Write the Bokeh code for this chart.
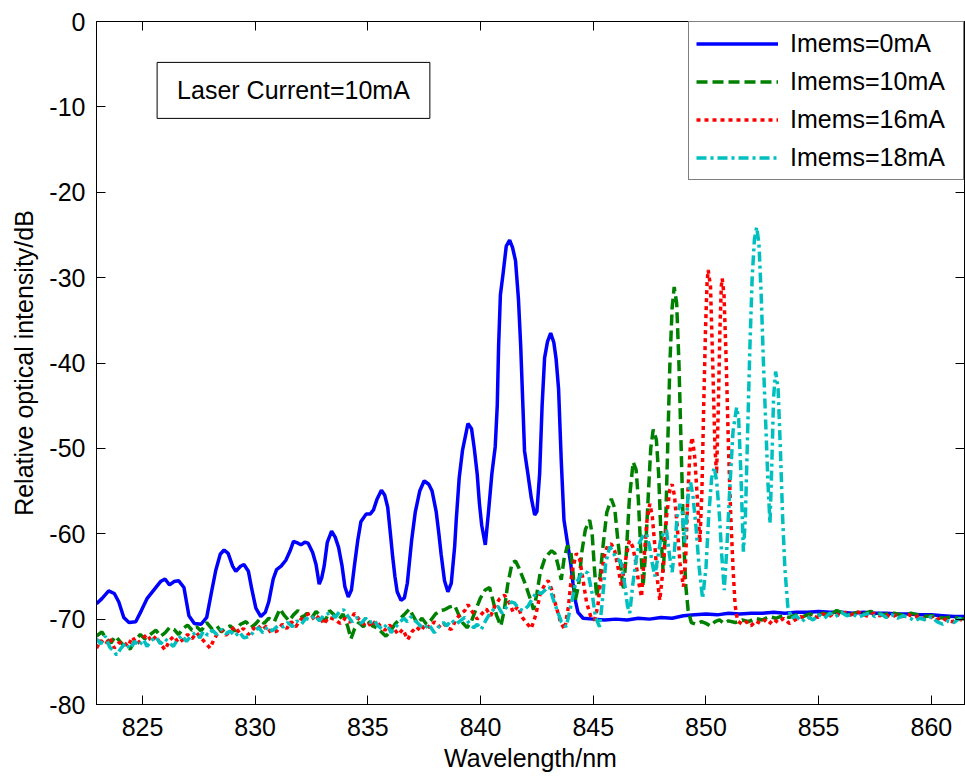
from bokeh.plotting import figure
from bokeh.models import Range1d, FixedTicker, LinearAxis, Legend, LegendItem, Label
from bokeh.embed import file_html
from bokeh.resources import INLINE

# ---------------- data ----------------
x_ticks = [825, 830, 835, 840, 845, 850, 855, 860]
y_ticks = [-80, -70, -60, -50, -40, -30, -20, -10, 0]
y_tick_labels = ["-80", "-70", "-60", "-50", "-40", "-30", "-20", "-10", "0"]
series_labels = ["Imems=0mA", "Imems=10mA", "Imems=16mA", "Imems=18mA"]

x_0ma = [822.96, 823.2, 823.5, 823.75, 823.95, 824.17, 824.4, 824.7, 824.95, 825.2, 825.5, 825.8, 826.0,
         826.2, 826.4, 826.6, 826.84, 827.06, 827.3, 827.6, 827.85, 828.05, 828.25, 828.45, 828.62, 828.8,
         829.0, 829.14, 829.35, 829.5, 829.7, 829.85, 830.03, 830.25, 830.45, 830.6, 830.8, 830.95, 831.15,
         831.36, 831.55, 831.7, 831.9, 832.03, 832.2, 832.35, 832.55, 832.7, 832.84, 832.95, 833.06, 833.2,
         833.39, 833.55, 833.7, 833.85, 833.98, 834.13, 834.27, 834.4, 834.55, 834.69, 834.92, 835.1, 835.25,
         835.4, 835.6, 835.75, 835.88, 836.0, 836.1, 836.2, 836.3, 836.47, 836.62, 836.75, 836.94, 837.1,
         837.3, 837.5, 837.7, 837.85, 838.03, 838.15, 838.25, 838.4, 838.55, 838.7, 838.85, 838.92, 839.05,
         839.2, 839.44, 839.6, 839.72, 839.85, 839.95, 840.05, 840.21, 840.35, 840.5, 840.65, 840.74, 840.8,
         840.88, 841.0, 841.14, 841.29, 841.42, 841.55, 841.68, 841.78, 841.88, 841.95, 842.1, 842.25, 842.4,
         842.5, 842.62, 842.73, 842.84, 842.97, 843.11, 843.25, 843.35, 843.46, 843.58, 843.7, 843.88, 844.0,
         844.1, 844.22, 844.32, 844.55, 845.0, 845.5, 846.0, 846.5, 847.0, 847.5, 848.0, 848.5, 849.0, 849.5,
         850.0, 850.5, 851.0, 851.5, 852.0, 852.5, 853.0, 853.5, 854.0, 854.5, 855.0, 855.5, 856.0, 856.5,
         857.0, 857.5, 858.0, 858.5, 859.0, 859.5, 860.0, 860.5, 861.0, 861.47]
y_0ma = [-68.2, -67.6, -66.7, -67.0, -68.0, -69.8, -70.4, -70.3, -69.0, -67.6, -66.6, -65.6, -65.3,
         -66.0, -65.6, -65.5, -66.3, -69.6, -70.5, -70.6, -69.8, -67.0, -64.3, -62.4, -61.9, -62.3,
         -63.8, -64.4, -63.8, -63.6, -64.4, -66.5, -68.7, -69.7, -69.2, -68.0, -65.3, -64.2, -63.8,
         -63.1, -62.0, -60.9, -61.1, -61.3, -61.0, -61.1, -62.2, -63.6, -65.9, -65.2, -63.8, -61.0,
         -59.7, -60.4, -61.6, -63.7, -66.2, -67.4, -66.6, -63.8, -60.8, -58.6, -57.7, -57.7, -57.2,
         -56.0, -54.9, -55.5, -56.9, -60.0, -62.7, -65.0, -66.8, -67.8, -67.5, -65.8, -60.8, -57.5,
         -55.0, -53.8, -54.2, -55.0, -57.4, -60.0, -62.4, -65.5, -66.8, -65.8, -61.5, -58.4, -53.5,
         -50.2, -47.1, -47.7, -50.0, -53.0, -56.5, -59.0, -61.3, -57.5, -53.0, -49.8, -45.0, -38.0,
         -32.0, -29.5, -26.3, -25.6, -26.5, -28.0, -32.5, -38.0, -45.2, -50.3, -53.0, -55.8, -57.8,
         -57.4, -53.0, -45.0, -39.4, -37.5, -36.5, -37.6, -39.5, -43.0, -51.5, -58.4, -61.5, -63.5,
         -65.8, -68.0, -69.2, -69.9, -70.0, -70.1, -70.0, -70.1, -69.9, -70.0, -69.8, -69.9, -69.6, -69.5,
         -69.4, -69.5, -69.3, -69.4, -69.3, -69.3, -69.2, -69.3, -69.2, -69.2, -69.1, -69.2, -69.2, -69.3,
         -69.2, -69.3, -69.3, -69.4, -69.4, -69.5, -69.5, -69.6, -69.7, -69.7]

x_10ma = [822.96, 823.2, 823.4, 823.6, 823.8, 824.0, 824.2, 824.45, 824.7, 824.9, 825.1, 825.3, 825.6,
          825.8, 826.0, 826.2, 826.4, 826.6, 826.8, 827.0, 827.2, 827.4, 827.6, 827.85, 828.1, 828.3,
          828.5, 828.7, 828.9, 829.1, 829.35, 829.6, 829.8, 830.0, 830.2, 830.4, 830.6, 830.85, 831.1,
          831.3, 831.5, 831.7, 831.9, 832.1, 832.3, 832.5, 832.7, 832.9, 833.1, 833.3, 833.5, 833.7,
          833.9, 834.1, 834.25, 834.4, 834.6, 834.8, 835.0, 835.2, 835.4, 835.6, 835.8, 836.0, 836.2,
          836.4, 836.6, 836.85, 837.0, 837.2, 837.4, 837.6, 837.8, 838.0, 838.2, 838.4, 838.6, 838.85,
          839.0, 839.2, 839.4, 839.6, 839.8, 840.0, 840.2, 840.4, 840.55, 840.7, 840.9, 841.05, 841.2,
          841.4, 841.55, 841.7, 841.85, 842.0, 842.2, 842.35, 842.5, 842.65, 842.84, 843.0, 843.15,
          843.3, 843.45, 843.58, 843.7, 843.85, 844.0, 844.1, 844.2, 844.35, 844.5, 844.65, 844.84,
          844.95, 845.05, 845.15, 845.3, 845.45, 845.6, 845.8, 845.95, 846.1, 846.25, 846.33, 846.45,
          846.6, 846.77, 846.9, 847.0, 847.1, 847.21, 847.3, 847.45, 847.55, 847.66, 847.8, 847.9,
          848.0, 848.1, 848.2, 848.3, 848.4, 848.5, 848.59, 848.7, 848.8, 848.9, 849.0, 849.1, 849.21,
          849.35, 849.55, 849.8, 850.0, 850.2, 850.4, 850.6, 850.8, 851.0, 851.3, 851.6, 851.9, 852.2,
          852.5, 852.8, 853.1, 853.4, 853.7, 854.0, 854.3, 854.6, 854.9, 855.2, 855.5, 855.8, 856.1,
          856.4, 856.7, 857.0, 857.3, 857.6, 857.9, 858.2, 858.5, 858.8, 859.1, 859.4, 859.7, 860.0,
          860.3, 860.6, 860.9, 861.2, 861.47]
y_10ma = [-72.0, -71.5, -72.3, -72.8, -72.0, -72.6, -73.2, -73.5, -72.4, -71.8, -72.3, -71.9, -71.3,
          -72.0, -71.6, -71.0, -71.2, -71.8, -71.1, -70.7, -71.3, -70.9, -71.4, -70.4, -71.2, -70.8,
          -71.5, -71.0, -70.8, -71.4, -70.6, -70.3, -71.0, -70.6, -70.0, -70.5, -69.9, -70.3, -68.8,
          -69.6, -70.2, -69.5, -69.0, -69.8, -69.3, -69.9, -69.1, -69.6, -70.3, -69.0, -69.5, -70.1,
          -69.4, -70.8, -72.3, -71.2, -70.4, -70.9, -70.2, -70.8, -71.0, -71.5, -72.0, -71.4, -70.6,
          -70.0, -69.5, -68.8, -69.6, -70.5, -69.9, -70.6, -70.1, -69.4, -69.0, -68.9, -68.6, -68.4,
          -69.3, -70.4, -71.0, -70.2, -68.8, -67.5, -66.6, -66.3, -67.8, -69.5, -70.8, -69.0, -66.0,
          -63.4, -63.2, -64.0, -65.0, -66.0, -67.6, -68.9, -67.0, -64.5, -63.0, -62.4, -62.0,
          -62.3, -63.8, -65.4, -63.0, -61.4, -62.0, -64.5, -67.8, -66.0, -62.0, -59.5, -58.4,
          -60.0, -64.0, -67.4, -65.0, -61.0, -57.5, -55.9, -57.0, -61.0, -64.5, -66.6, -63.0,
          -56.0, -51.6, -52.5, -56.0, -61.5, -66.2, -63.0, -55.0, -50.0, -47.8, -49.0, -53.0,
          -60.0, -64.5, -60.0, -50.0, -40.0, -33.5, -31.1, -33.0, -40.0, -50.0, -60.0, -66.0, -69.0,
          -70.4, -70.6, -70.3, -70.5, -70.8, -70.3, -70.1, -70.5, -70.2, -70.4, -70.1, -70.3, -69.9,
          -70.1, -69.7, -69.9, -69.6, -69.8, -69.5, -69.7, -69.4, -69.6, -69.3, -69.5, -69.0, -69.3,
          -69.5, -69.2, -69.4, -69.1, -69.3, -69.5, -69.2, -69.4, -69.6, -69.3, -69.5, -69.7, -69.6,
          -69.8, -69.9, -69.7, -69.9, -70.0]

x_16ma = [822.96, 823.15, 823.35, 823.55, 823.75, 823.95, 824.14, 824.35, 824.55, 824.75, 825.0, 825.2,
          825.4, 825.6, 825.8, 826.0, 826.2, 826.4, 826.6, 826.8, 827.0, 827.2, 827.4, 827.6, 827.8,
          828.0, 828.15, 828.3, 828.5, 828.7, 828.9, 829.1, 829.3, 829.48, 829.7, 829.9, 830.1, 830.3,
          830.5, 830.7, 830.96, 831.2, 831.4, 831.6, 831.8, 832.0, 832.2, 832.44, 832.65, 832.85, 833.05,
          833.25, 833.5, 833.77, 834.0, 834.2, 834.4, 834.6, 834.8, 835.0, 835.14, 835.35, 835.55,
          835.75, 835.95, 836.15, 836.35, 836.55, 836.77, 836.95, 837.15, 837.35, 837.55, 837.75,
          837.95, 838.15, 838.35, 838.5, 838.7, 838.9, 839.1, 839.3, 839.44, 839.65, 839.85, 840.05,
          840.25, 840.45, 840.65, 840.85, 841.06, 841.25, 841.45, 841.65, 841.85, 842.05, 842.25,
          842.45, 842.65, 842.84, 843.0, 843.15, 843.35, 843.55, 843.73, 843.9, 844.05, 844.25, 844.4,
          844.55, 844.7, 844.9, 845.06, 845.2, 845.35, 845.5, 845.65, 845.8, 845.95, 846.1, 846.25,
          846.4, 846.6, 846.75, 846.9, 847.0, 847.14, 847.25, 847.38, 847.51, 847.62, 847.75, 847.85,
          847.95, 848.1, 848.25, 848.4, 848.5, 848.6, 848.72, 848.85, 849.0, 849.1, 849.2, 849.3,
          849.39, 849.5, 849.62, 849.73, 849.82, 849.9, 849.98, 850.05, 850.1, 850.2, 850.3, 850.4,
          850.47, 850.55, 850.62, 850.68, 850.72, 850.8, 850.9, 851.0, 851.1, 851.2, 851.29, 851.4,
          851.6, 851.8, 852.0, 852.2, 852.4, 852.6, 852.8, 853.0, 853.2, 853.45, 853.7, 853.95, 854.2,
          854.45, 854.7, 854.95, 855.2, 855.45, 855.7, 855.95, 856.2, 856.45, 856.7, 856.95, 857.2,
          857.45, 857.7, 857.95, 858.2, 858.45, 858.7, 858.95, 859.2, 859.45, 859.7, 859.95, 860.2,
          860.45, 860.7, 860.95, 861.2, 861.47]
y_16ma = [-73.4, -72.5, -73.0, -72.2, -73.4, -72.8, -72.6, -73.2, -72.1, -72.9, -72.3, -71.8,
          -72.6, -72.0, -72.9, -73.6, -72.5, -72.0, -72.8, -72.4, -71.8, -72.3, -71.6, -72.2, -72.8,
          -73.4, -72.5, -71.8, -71.3, -71.9, -71.4, -70.9, -71.6, -71.1, -71.8, -71.2, -70.7, -71.3,
          -70.8, -71.6, -71.4, -70.6, -71.1, -70.3, -70.9, -70.1, -69.6, -69.3, -70.2, -69.6, -70.6,
          -69.8, -70.0, -70.5, -69.9, -70.4, -69.3, -70.0, -70.6, -70.3, -70.9, -70.2, -70.8,
          -71.3, -70.7, -71.1, -71.8, -71.2, -72.4, -71.5, -70.9, -71.4, -70.6, -71.0,
          -70.3, -70.9, -70.4, -71.0, -71.2, -70.1, -69.4, -69.0, -68.3, -69.2, -70.0, -69.4,
          -68.8, -69.6, -68.4, -67.6, -67.2, -68.0, -69.2, -68.5, -69.8, -70.5, -71.1,
          -69.5, -67.0, -66.0, -65.5, -66.5, -68.5, -70.4, -71.2, -68.5, -64.5, -62.3, -63.0,
          -65.5, -68.0, -69.8, -70.1, -68.5, -65.0, -62.5, -61.3, -61.2, -62.0, -64.0, -66.2,
          -63.5, -60.8, -61.5, -63.5, -65.5, -67.4, -63.0, -58.5, -56.5, -58.0, -62.0, -65.5,
          -67.8, -64.0, -58.0, -54.8, -54.2, -55.5, -59.0, -63.5, -66.2, -63.0, -55.0, -50.0,
          -48.7, -51.0, -56.0, -61.0, -55.0, -45.0, -36.0, -30.5, -29.1, -31.0, -40.0, -50.0,
          -53.0, -45.0, -36.0, -31.0, -30.1, -32.0, -40.0, -50.0, -58.0, -64.0, -68.3, -70.2,
          -70.6, -70.3, -70.8, -70.2, -70.5, -70.1, -70.6, -70.0, -70.4, -69.9, -70.5, -70.1, -69.7,
          -70.0, -69.6, -69.8, -69.4, -69.7, -69.3, -69.6, -69.2, -69.5, -69.1, -69.4, -69.7,
          -69.3, -69.6, -69.4, -69.8, -69.5, -69.7, -69.4, -69.8, -69.6, -70.0, -69.7, -70.1,
          -69.8, -70.2, -70.3, -70.0, -70.2]

x_18ma = [822.96, 823.15, 823.35, 823.55, 823.75, 823.85, 824.05, 824.25, 824.45, 824.65, 824.85, 825.05,
          825.2, 825.4, 825.6, 825.8, 826.0, 826.2, 826.37, 826.55, 826.75, 826.95, 827.15, 827.35,
          827.55, 827.7, 827.9, 828.1, 828.3, 828.5, 828.7, 828.9, 829.1, 829.3, 829.5, 829.77, 829.95,
          830.15, 830.35, 830.55, 830.75, 831.0, 831.26, 831.45, 831.65, 831.85, 832.05, 832.25, 832.44,
          832.65, 832.85, 833.05, 833.33, 833.55, 833.75, 833.92, 834.1, 834.3, 834.5, 834.7, 834.9,
          835.1, 835.28, 835.45, 835.65, 835.85, 836.03, 836.2, 836.4, 836.6, 836.75, 836.92, 837.1,
          837.3, 837.5, 837.7, 837.95, 838.15, 838.35, 838.5, 838.7, 838.9, 839.1, 839.3, 839.5,
          839.7, 839.85, 840.03, 840.2, 840.4, 840.6, 840.77, 840.95, 841.15, 841.35, 841.5, 841.7,
          841.9, 842.1, 842.3, 842.5, 842.7, 842.9, 843.05, 843.2, 843.4, 843.58, 843.8, 844.0,
          844.2, 844.45, 844.6, 844.77, 844.95, 845.1, 845.28, 845.4, 845.55, 845.73, 845.85, 846.0,
          846.1, 846.25, 846.4, 846.52, 846.62, 846.75, 846.9, 847.05, 847.2, 847.36, 847.5, 847.62,
          847.73, 847.85, 848.0, 848.15, 848.25, 848.38, 848.5, 848.6, 848.72, 848.85, 848.95, 849.05,
          849.12, 849.22, 849.32, 849.42, 849.55, 849.7, 849.85, 850.0, 850.12, 850.25, 850.37, 850.48,
          850.6, 850.7, 850.81, 850.92, 851.05, 851.2, 851.36, 851.45, 851.55, 851.66, 851.75, 851.85,
          851.95, 852.05, 852.15, 852.25, 852.35, 852.45, 852.55, 852.65, 852.75, 852.84, 852.92,
          853.0, 853.09, 853.2, 853.3, 853.4, 853.5, 853.63, 853.8, 854.0, 854.25, 854.5, 854.75,
          855.0, 855.25, 855.5, 855.75, 856.0, 856.25, 856.5, 856.75, 857.0, 857.25, 857.5, 857.75,
          858.0, 858.25, 858.5, 858.75, 859.0, 859.25, 859.5, 859.75, 860.0, 860.25, 860.5, 860.75,
          861.0, 861.25, 861.47]
y_18ma = [-72.3, -72.9, -72.0, -73.3, -73.8, -74.2, -73.4, -72.8, -73.5, -72.6, -73.1, -72.4,
          -73.2, -72.5, -72.1, -72.9, -72.3, -72.8, -73.2, -72.4, -71.9, -72.6, -72.0, -71.6,
          -72.2, -71.4, -71.9, -71.3, -71.8, -71.2, -71.7, -71.4, -72.0, -71.5, -72.2, -72.0, -71.4,
          -71.0, -71.6, -70.9, -71.4, -70.8, -70.9, -70.4, -70.9, -70.2, -70.6, -69.9, -70.1,
          -69.6, -70.2, -69.5, -69.3, -69.8, -69.1, -68.9, -69.6, -70.3, -69.8, -70.5, -69.9,
          -70.4, -70.1, -70.8, -71.2, -70.6, -71.6, -71.0, -70.4, -69.9, -70.3, -69.7, -70.2,
          -70.7, -71.1, -70.6, -71.6, -70.9, -70.4, -70.8, -70.1, -70.6, -70.2, -69.8, -70.5,
          -71.0, -70.6, -71.2, -70.3, -69.4, -68.8, -68.5, -69.3, -68.6, -68.0, -68.1, -68.8,
          -69.0, -68.5, -67.6, -66.8, -67.0, -66.5, -66.2, -67.5, -69.0, -70.3, -70.9, -68.5,
          -66.0, -64.8, -64.4, -64.6, -67.0, -69.8, -70.9, -68.0, -63.5, -61.5, -62.0, -62.8,
          -63.0, -63.5, -66.0, -68.5, -69.3, -66.0, -63.0, -61.0, -60.3, -60.0, -61.5, -63.5,
          -65.0, -63.0, -60.5, -59.8, -59.6, -62.5, -64.5, -62.0, -58.0, -56.5, -57.5, -61.0,
          -59.0, -55.0, -54.0, -55.5, -59.0, -64.0, -67.6, -64.0, -58.0, -53.5, -52.2, -54.0,
          -58.0, -62.5, -66.6, -62.0, -55.0, -48.0, -45.2, -46.5, -53.0, -62.1, -58.0, -48.0,
          -38.0, -30.0, -25.5, -24.1, -26.0, -32.0, -40.0, -47.0, -54.0, -58.8, -52.0,
          -44.0, -41.0, -43.0, -50.0, -58.0, -64.0, -68.5, -69.9, -69.6, -70.3, -69.7, -70.1,
          -69.5, -69.9, -69.3, -69.7, -69.2, -69.6, -69.4, -69.8, -69.5, -69.3, -69.7, -69.4,
          -69.8, -69.5, -69.9, -69.6, -69.8, -70.2, -69.9, -70.1, -69.7, -70.3, -70.6, -70.2,
          -70.4, -69.9, -70.2]

# ---------------- figure ----------------
FONT = "Liberation Sans"

p = figure(width=965, height=778, output_backend="svg", toolbar_location=None,
           x_range=Range1d(822.96, 861.47), y_range=Range1d(-80, 0),
           min_border_left=96, min_border_right=1, min_border_top=21, min_border_bottom=74)
p.background_fill_color = "white"
p.border_fill_color = "white"
p.xgrid.visible = False
p.ygrid.visible = False
p.outline_line_color = "black"
p.outline_line_width = 1

r0 = p.line(x_0ma, y_0ma, line_color="#0000FF", line_width=3.5)
r1 = p.line(x_10ma, y_10ma, line_color="#008000", line_width=3.5, line_dash="11 5")
r2 = p.line(x_16ma, y_16ma, line_color="#FF0000", line_width=3.5, line_dash="4 4")
r3 = p.line(x_18ma, y_18ma, line_color="#00BFBF", line_width=3.5, line_dash="10 4 3 4")

def style_axis(ax, show_labels=True):
    ax.axis_line_color = "black"
    ax.major_tick_line_color = "black"
    ax.minor_tick_line_color = None
    ax.major_tick_in = 9
    ax.major_tick_out = 0
    if show_labels:
        ax.major_label_text_font = FONT
        ax.major_label_text_font_size = "25px"
        ax.major_label_text_color = "black"
        ax.axis_label_text_font = FONT
        ax.axis_label_text_font_size = "25px"
        ax.axis_label_text_font_style = "normal"
        ax.axis_label_text_color = "black"
    else:
        ax.major_label_text_font_size = "0px"
        ax.major_label_text_color = None
        ax.major_label_standoff = 0
        ax.axis_label = None

p.xaxis.ticker = FixedTicker(ticks=x_ticks)
p.yaxis.ticker = FixedTicker(ticks=y_ticks)
p.yaxis.major_label_overrides = {t: s for t, s in zip(y_ticks, y_tick_labels)}
p.xaxis.axis_label = "Wavelength/nm"
p.yaxis.axis_label = "Relative optical intensity/dB"
style_axis(p.xaxis[0])
style_axis(p.yaxis[0])
p.xaxis.major_label_standoff = 13
p.xaxis.axis_label_standoff = 5
p.yaxis.major_label_standoff = 11
p.yaxis.axis_label_standoff = 8

top_ax = LinearAxis(ticker=FixedTicker(ticks=x_ticks))
right_ax = LinearAxis(ticker=FixedTicker(ticks=y_ticks))
style_axis(top_ax, False)
style_axis(right_ax, False)
p.add_layout(top_ax, "above")
p.add_layout(right_ax, "right")

legend = Legend(items=[LegendItem(label=series_labels[0], renderers=[r0]),
                       LegendItem(label=series_labels[1], renderers=[r1]),
                       LegendItem(label=series_labels[2], renderers=[r2]),
                       LegendItem(label=series_labels[3], renderers=[r3])],
                location="top_right", margin=0, padding=7, spacing=9,
                glyph_width=82, glyph_height=29, label_height=29, label_width=166,
                label_standoff=12, label_text_font=FONT, label_text_font_size="25px",
                label_text_color="black", border_line_color="black", border_line_width=1,
                background_fill_color="white", background_fill_alpha=1)
p.add_layout(legend)

note = Label(x=831.7, y=-8.07, text="Laser Current=10mA", text_align="center",
             text_baseline="middle", text_font=FONT, text_font_size="25px", text_color="black",
             border_line_color="black", border_line_width=1, background_fill_color="white",
             padding=dict(left=20, right=20, top=14, bottom=14))
p.add_layout(note)

open("out.html", "w").write(file_html(p, INLINE))
